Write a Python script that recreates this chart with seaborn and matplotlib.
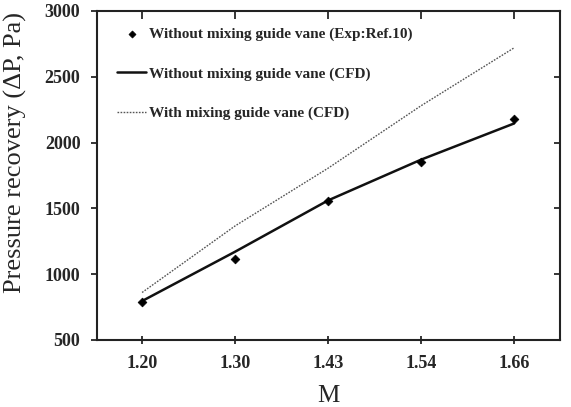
import numpy as np
import pandas as pd
import matplotlib
matplotlib.use("Agg")
import matplotlib.pyplot as plt
import seaborn as sns

## Data
m_labels = ["1.20", "1.30", "1.43", "1.54", "1.66"]
exp_without = [791, 1113, 1559, 1852, 2179]
cfd_without = [795, 1170, 1560, 1870, 2145]
cfd_with = [860, 1366, 1805, 2280, 2720]

pos = np.arange(len(m_labels))
df = pd.DataFrame({"pos": pos, "exp": exp_without,
                   "cfd_wo": cfd_without, "cfd_w": cfd_with})

######### Plot
sns.set_style("ticks")
plt.rcParams['font.family'] = ['Liberation Serif', 'DejaVu Serif']

fig = plt.figure(figsize=(5.71, 4.07), dpi=100)
ax = fig.add_axes([0.170, 0.165, 0.811, 0.808])

sns.scatterplot(x="pos", y="exp", data=df, ax=ax, marker="D", s=20,
                color="black", edgecolor="black", linewidth=0.5,
                label="Without mixing guide vane (Exp:Ref.10)", zorder=3)
sns.lineplot(x="pos", y="cfd_wo", data=df, ax=ax, color="#111111",
             linewidth=1.8, label="Without mixing guide vane (CFD)")
sns.lineplot(x="pos", y="cfd_w", data=df, ax=ax, color="#555555",
             linewidth=1.0, linestyle=(0, (1.2, 1.0)),
             label="With mixing guide vane (CFD)")

ax.set_xlim(-0.484, 4.495)
ax.set_ylim(500, 3000)
ax.set_xticks(pos)
ax.set_xticklabels(m_labels)
ax.set_yticks([500, 1000, 1500, 2000, 2500, 3000])

ax.set_xlabel("M", fontsize=18, labelpad=9)
ax.set_ylabel("Pressure recovery (ΔP, Pa)", fontsize=19)
ax.yaxis.set_label_coords(-0.152, 0.57)
for lab in ax.get_xticklabels() + ax.get_yticklabels():
    lab.set_fontweight("bold")
    lab.set_fontsize(13)

for s in ax.spines.values():
    s.set_linewidth(1.5)
    s.set_color("#222222")
ax.tick_params(axis="both", which="major", width=1.3, length=4, pad=8)
ax.tick_params(top=True, right=True)
ax.tick_params(axis="x", direction="inout", length=6)
ax.tick_params(axis="y", direction="out")
# top/right ticks point inward
for t in ax.xaxis.get_major_ticks():
    t.tick2line.set_marker(3)
for t in ax.yaxis.get_major_ticks():
    t.tick2line.set_marker(0)

leg = ax.legend(loc="upper left", frameon=False, prop={"weight": "bold", "size": 11},
                labelspacing=1.68, handlelength=1.9, handletextpad=0.2,
                borderaxespad=0.3, bbox_to_anchor=(0.02, 0.983), markerscale=0.8)

plt.savefig("out.png", dpi=100)
